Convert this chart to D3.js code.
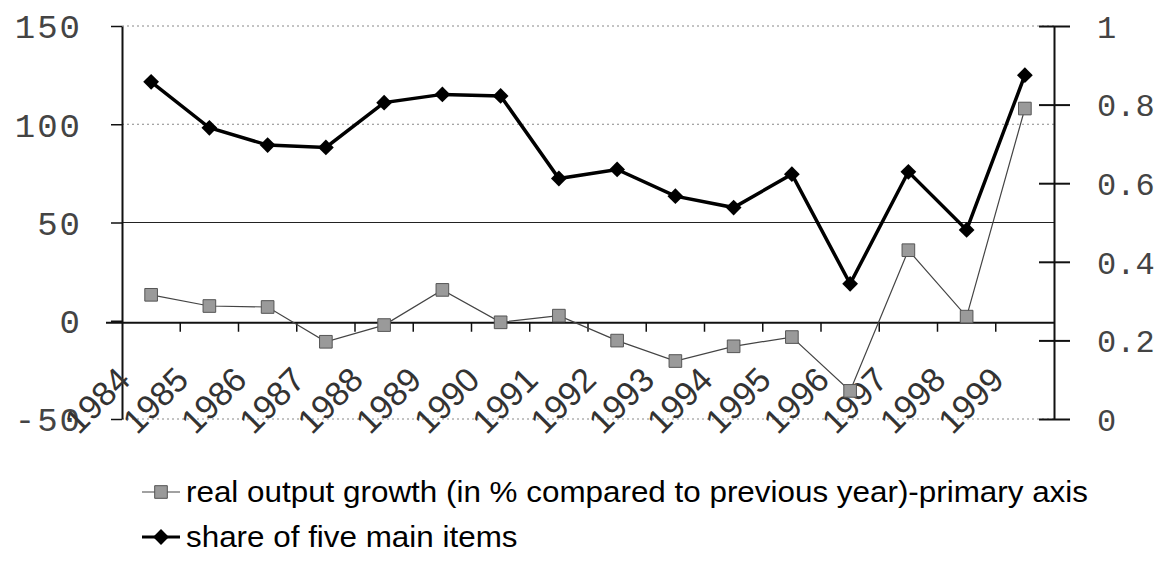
<!DOCTYPE html>
<html><head><meta charset="utf-8">
<script src="https://cdn.jsdelivr.net/npm/d3@7"></script>
<style>body{margin:0;background:#fff;} svg{display:block;}</style>
</head><body>
<svg id="chart" width="1157" height="586"></svg>
<script>
const years = ["1984","1985","1986","1987","1988","1989","1990","1991","1992","1993","1994","1995","1996","1997","1998","1999"];
const growth = [13.2, 7.5, 7.0, -10.7, -2.2, 15.7, -0.8, 2.6, -10.1, -20.5, -13.0, -8.3, -35.7, 35.9, 2.1, 108];
const share = [0.858, 0.741, 0.697, 0.691, 0.805, 0.826, 0.822, 0.612, 0.635, 0.567, 0.538, 0.623, 0.344, 0.629, 0.481, 0.875];
const leftTicks = [-50, 0, 50, 100, 150];
const rightTicks = [0, 0.2, 0.4, 0.6, 0.8, 1];
const seriesNames = ["real output growth (in % compared to previous year)-primary axis", "share of five main items"];

const svg = d3.select("#chart");
const L = 122, R = 1054, T = 26, B = 419;
const x = d3.scaleBand().domain(years).range([L, R]);
const yL = d3.scaleLinear().domain([-50, 150]).range([B, T]);
const yR = d3.scaleLinear().domain([0, 1]).range([B, T]);
const cx = d => x(d) + x.bandwidth() / 2;

// gridlines
const grid = svg.append("g");
[[150, true], [100, true], [50, false], [-50, true]].forEach(([v, dotted]) => {
  grid.append("line").attr("x1", L).attr("x2", R).attr("y1", yL(v)).attr("y2", yL(v))
    .attr("stroke", dotted ? "#888" : "#222").attr("stroke-width", 1)
    .attr("stroke-dasharray", dotted ? "2,3" : null);
});

// left axis
const axL = svg.append("g").attr("transform", `translate(${L},0)`)
  .call(d3.axisLeft(yL).tickValues(leftTicks).tickSize(11).tickSizeOuter(0).tickPadding(29).tickFormat(d => d));
axL.select(".domain").attr("stroke", "#111").attr("stroke-width", 2);
axL.selectAll(".tick line").attr("stroke", "#111").attr("stroke-width", 1.5);
axL.selectAll(".tick text").attr("font-family", "'Liberation Mono', monospace").attr("font-size", 34)
  .attr("fill", "#444").attr("letter-spacing", 2).attr("dy", "0.35em");

// right axis
const axR = svg.append("g").attr("transform", `translate(${R},0)`)
  .call(d3.axisRight(yR).tickValues(rightTicks).tickSize(16).tickSizeOuter(0).tickPadding(27).tickFormat(d => d === 0 ? "0" : d === 1 ? "1" : d3.format(".1f")(d)));
axR.select(".domain").attr("stroke", "#111").attr("stroke-width", 2);
axR.selectAll(".tick line").attr("x1", -15).attr("stroke", "#111").attr("stroke-width", 2);
axR.selectAll(".tick text").attr("font-family", "'Liberation Mono', monospace").attr("font-size", 32)
  .attr("fill", "#444").attr("dy", "0.35em");

// category axis at zero
const y0 = yL(0) + 2;
const axX = svg.append("g");
axX.append("line").attr("x1", L - 16).attr("x2", R).attr("y1", y0).attr("y2", y0)
  .attr("stroke", "#111").attr("stroke-width", 2);
axX.selectAll(".xt").data(years.slice(1)).enter().append("line")
  .attr("x1", d => x(d)).attr("x2", d => x(d)).attr("y1", y0).attr("y2", y0 + 9)
  .attr("stroke", "#111").attr("stroke-width", 1.5);
axX.selectAll(".xl").data(years).enter().append("text")
  .attr("transform", d => `translate(${cx(d) - 19},382) rotate(-45)`)
  .attr("text-anchor", "end").attr("font-family", "'Liberation Sans', Arial, sans-serif")
  .attr("font-size", 34).attr("fill", "#333").text(d => d);

// growth series
const lineL = d3.line().x((d, i) => cx(years[i])).y(d => yL(d));
svg.append("path").datum(growth).attr("d", lineL).attr("fill", "none")
  .attr("stroke", "#444").attr("stroke-width", 1.2);
const sq = d3.symbol().type(d3.symbolSquare).size(160);
svg.selectAll(".sq").data(growth).enter().append("path")
  .attr("d", sq).attr("transform", (d, i) => `translate(${cx(years[i])},${yL(d)})`)
  .attr("fill", "#9a9a9a").attr("stroke", "#555").attr("stroke-width", 1);

// share series
const lineR = d3.line().x((d, i) => cx(years[i])).y(d => yR(d));
svg.append("path").datum(share).attr("d", lineR).attr("fill", "none")
  .attr("stroke", "#000").attr("stroke-width", 3.5);
const dm = d3.symbol().type(d3.symbolSquare).size(125);
svg.selectAll(".dm").data(share).enter().append("path")
  .attr("d", dm).attr("transform", (d, i) => `translate(${cx(years[i])},${yR(d)}) rotate(45)`)
  .attr("fill", "#000");

// legend
const lg = svg.append("g");
const ly = [492, 537];
lg.append("line").attr("x1", 142).attr("x2", 180).attr("y1", ly[0]).attr("y2", ly[0]).attr("stroke", "#444").attr("stroke-width", 1.2);
lg.append("path").attr("d", sq).attr("transform", `translate(161,${ly[0]})`).attr("fill", "#9a9a9a").attr("stroke", "#555");
lg.append("line").attr("x1", 142).attr("x2", 180).attr("y1", ly[1]).attr("y2", ly[1]).attr("stroke", "#000").attr("stroke-width", 3);
lg.append("path").attr("d", dm).attr("transform", `translate(161,${ly[1]}) rotate(45)`).attr("fill", "#000");
const t1 = lg.append("text").attr("x", 186).attr("y", ly[0] + 10).attr("font-family", "'Liberation Sans Narrow', 'Liberation Sans', Arial, sans-serif")
  .attr("font-size", 29).attr("fill", "#000").text(seriesNames[0]);
const t2 = lg.append("text").attr("x", 186).attr("y", ly[1] + 10).attr("font-family", "'Liberation Sans Narrow', 'Liberation Sans', Arial, sans-serif")
  .attr("font-size", 29).attr("fill", "#000").text(seriesNames[1]);
const w1 = t1.node().getComputedTextLength();
const w2 = t2.node().getComputedTextLength();
const ratio = 902 / w1;
t1.attr("textLength", 902).attr("lengthAdjust", "spacingAndGlyphs");
t2.attr("textLength", w2 * ratio).attr("lengthAdjust", "spacingAndGlyphs");
</script>
</body></html>
